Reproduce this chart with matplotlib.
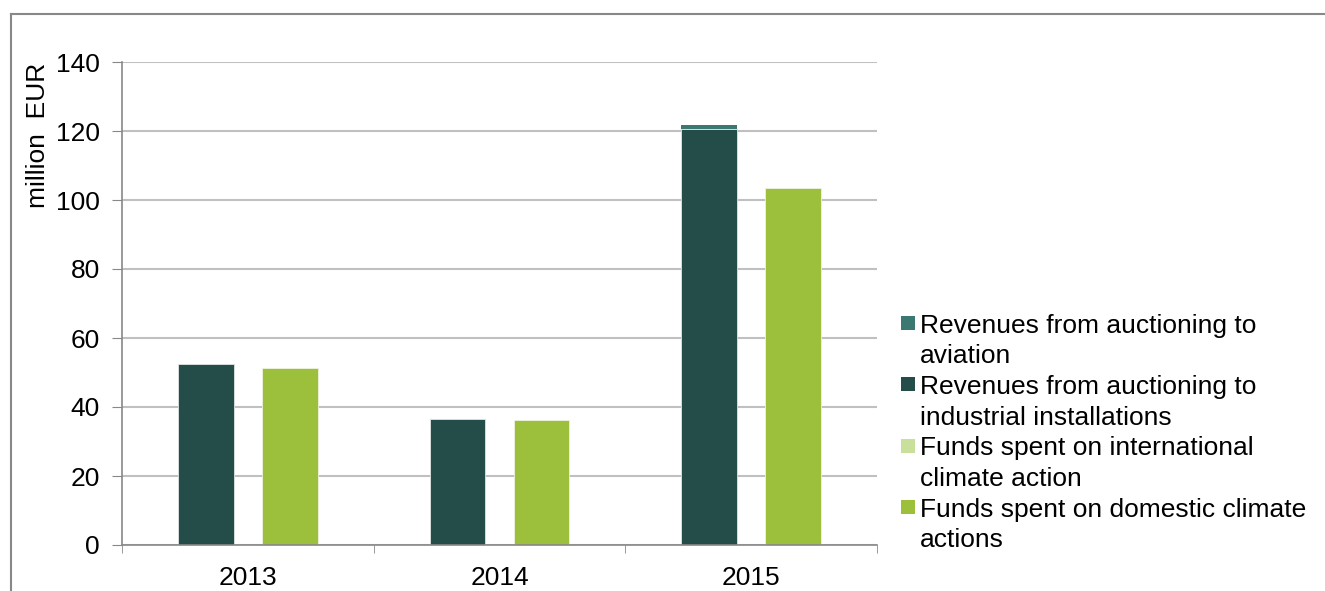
import matplotlib.pyplot as plt
from matplotlib.patches import Rectangle
import numpy as np

plt.rcParams['font.family'] = ['Liberation Sans', 'DejaVu Sans']

years = ['2013', '2014', '2015']
aviation = [0.0, 0.0, 1.2]
industrial = [52.6, 36.4, 120.5]
international = [0.0, 0.0, 0.0]
domestic = [51.3, 36.2, 103.4]

labels = ['Revenues from auctioning to\naviation',
          'Revenues from auctioning to\nindustrial installations',
          'Funds spent on international\nclimate action',
          'Funds spent on domestic climate\nactions']
colors = ['#3b7872', '#244c49', '#c9e09c', '#9dc03c']

W, H = 1325, 591
fig = plt.figure(figsize=(W / 100, H / 100), dpi=100)
ax = fig.add_axes([122 / W, 1 - 545 / H, (877 - 122) / W, (545 - 62) / H])

# outer frame (only top and left visible in the reference)
fig.add_artist(plt.Line2D([11 / W, 11 / W], [0, 1 - 14 / H], color='#888888', lw=1.5))
fig.add_artist(plt.Line2D([11 / W, 1], [1 - 14 / H, 1 - 14 / H], color='#888888', lw=1.5))

x = np.arange(len(years))
w = 0.222
off = 0.167
ax.bar(x - off, industrial, w, color=colors[1], edgecolor='#dfe6e3', linewidth=0.6)
ax.bar(x - off, aviation, w, bottom=industrial, color=colors[0], linewidth=0)
ax.bar(x + off, domestic, w, color=colors[3], edgecolor='#eef3e0', linewidth=0.6)
ax.bar(x + off, international, w, bottom=domestic, color=colors[2], linewidth=0)

ax.set_xlim(-0.5, 2.5)
ax.set_ylim(0, 140)
ax.set_yticks(range(0, 141, 20))
ax.set_xticks(x)
ax.set_xticklabels(years, fontsize=19)
ax.set_xticks([-0.5, 0.5, 1.5, 2.5], minor=True)
ax.tick_params(axis='x', which='major', length=0, pad=15)
ax.tick_params(axis='x', which='minor', length=6, color='#888888', direction='out')
ax.tick_params(axis='y', labelsize=19, length=7, color='#888888', pad=9)
ax.yaxis.grid(True, color='#c0c0c0', lw=1.5)
ax.set_axisbelow(True)
for s in ['top', 'right']:
    ax.spines[s].set_visible(False)
for s in ['left', 'bottom']:
    ax.spines[s].set_color('#888888')
    ax.spines[s].set_linewidth(1.2)

fig.text(38 / W, 1 - 135 / H, 'million  EUR', rotation=90, fontsize=19,
         ha='center', va='center')

# legend drawn by hand: square aligned with first line of each label
y0, line_h = 323, 30.7
row = 0
for lab, c in zip(labels, colors):
    yc = y0 + row * line_h
    fig.add_artist(Rectangle((901 / W, 1 - (yc + 7) / H), 14 / W, 14 / H,
                             transform=fig.transFigure, facecolor=c, edgecolor='none'))
    for part in lab.split('\n'):
        fig.text(920 / W, 1 - (y0 + row * line_h) / H, part, fontsize=19,
                 ha='left', va='center_baseline')
        row += 1

fig.savefig('out.png', dpi=100)
